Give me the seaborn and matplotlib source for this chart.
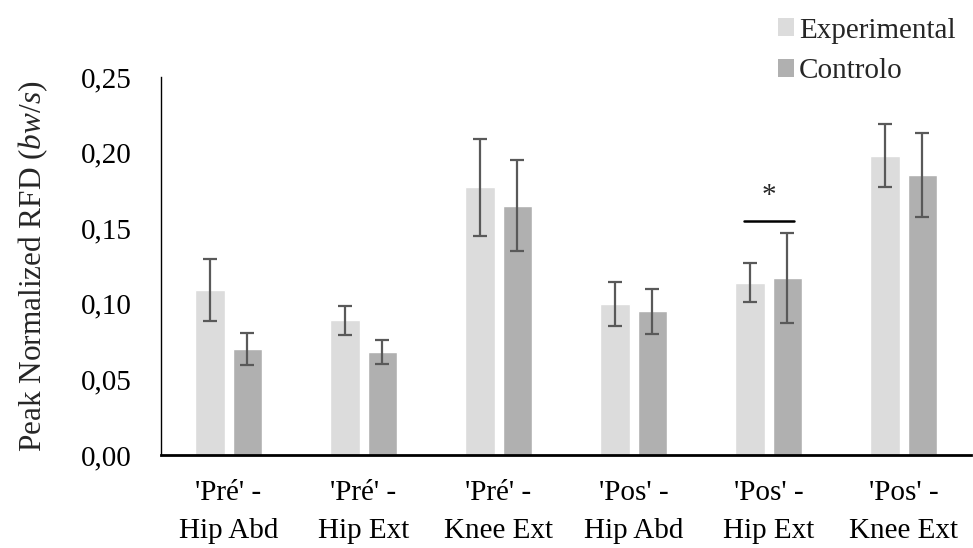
import numpy as np
import pandas as pd
import matplotlib
matplotlib.use("Agg")
import matplotlib.pyplot as plt
import seaborn as sns
from matplotlib.patches import Patch

categories = ["'Pré' -\nHip Abd", "'Pré' -\nHip Ext", "'Pré' -\nKnee Ext",
              "'Pos' -\nHip Abd", "'Pos' -\nHip Ext", "'Pos' -\nKnee Ext"]
groups = ["Experimental", "Controlo"]
experimental = [0.109, 0.089, 0.177, 0.100, 0.114, 0.198]
controlo = [0.070, 0.068, 0.165, 0.095, 0.117, 0.185]
experimental_err = [0.0205, 0.0098, 0.032, 0.0145, 0.0128, 0.021]
controlo_err = [0.0105, 0.008, 0.030, 0.0147, 0.0295, 0.0278]
yticks = [0.00, 0.05, 0.10, 0.15, 0.20, 0.25]

sns.set_theme(style="white")
plt.rcParams["font.family"] = ["Liberation Serif", "DejaVu Serif"]
plt.rcParams["mathtext.fontset"] = "custom"
plt.rcParams["mathtext.rm"] = "Liberation Serif"
plt.rcParams["mathtext.it"] = "Liberation Serif:italic"

df = pd.DataFrame({
    "cat": categories * 2,
    "group": [groups[0]] * 6 + [groups[1]] * 6,
    "value": experimental + controlo,
})
errs = {groups[0]: experimental_err, groups[1]: controlo_err}
colors = {"Experimental": "#DCDCDC", "Controlo": "#B0B0B0"}

fig = plt.figure(figsize=(9.73, 5.48), dpi=100)
ax = fig.add_axes([0.1655, 0.1697, 0.998 - 0.1655, 0.8595 - 0.1697])

sns.barplot(data=df, x="cat", y="value", hue="group", order=categories,
            hue_order=groups, palette=colors, errorbar=None, width=0.56,
            gap=0.21, ax=ax, legend=False, saturation=1)

for cont, g in zip(ax.containers, groups):
    xs = [p.get_x() + p.get_width() / 2 for p in cont]
    hs = [p.get_height() for p in cont]
    ax.errorbar(xs, hs, yerr=errs[g], fmt="none", ecolor="#595959",
                elinewidth=1.6, capsize=5, capthick=1.6)

ax.set_xlim(-0.5, 5.5)
ax.set_ylim(0, 0.25)
ax.set_yticks(yticks)
ax.set_yticklabels([f"{v:.2f}".replace(".", ",") for v in yticks])
ax.tick_params(axis="both", length=0, labelsize=21, colors="black")
ax.tick_params(axis="y", pad=21)
ax.tick_params(axis="x", pad=18)
for lbl in ax.get_xticklabels():
    lbl.set_linespacing(1.6)
ax.set_xlabel("")
ax.set_ylabel(r"Peak Normalized RFD ($\it{bw/s}$)", fontsize=22.5, labelpad=22)

for s in ["top", "right"]:
    ax.spines[s].set_visible(False)
ax.spines["left"].set_color("black")
ax.spines["left"].set_linewidth(1.0)
ax.spines["bottom"].set_color("black")
ax.spines["bottom"].set_linewidth(2.0)

# significance marker
ax.plot([3.82, 4.19], [0.1548, 0.1548], color="black", lw=1.8)
ax.text(4.0, 0.1667, "*", ha="center", va="baseline", fontsize=21)

handles = [Patch(facecolor=colors[g], edgecolor="none", label=g) for g in groups]
fig.legend(handles=handles, loc="upper right", bbox_to_anchor=(1.0, 1.0),
           frameon=False, fontsize=21, handlelength=0.55, handleheight=0.55,
           handletextpad=0.15, labelspacing=0.5, borderaxespad=0.2)

fig.savefig("out.png", dpi=100)
